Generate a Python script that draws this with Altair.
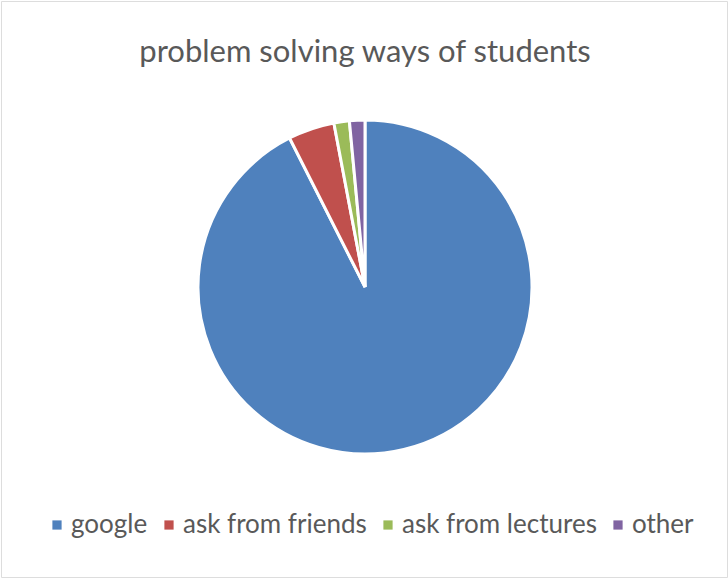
import altair as alt
import pandas as pd

categories = ["google", "ask from friends", "ask from lectures", "other"]
counts = [62, 3, 1, 1]
colors = ["#4F81BD", "#C0504D", "#9BBB59", "#8064A2"]
title_text = "problem solving ways of students"

df = pd.DataFrame({"way": categories, "count": counts, "order": list(range(len(categories)))})

FONT = "Lato"
TXT = "#595959"

pie = alt.Chart(df).mark_arc(radius=167, stroke="white", strokeWidth=3, strokeJoin="miter").encode(
    theta=alt.Theta("count:Q", stack=True),
    order=alt.Order("order:Q"),
    color=alt.Color(
        "way:N",
        scale=alt.Scale(domain=categories, range=colors),
        sort=categories,
        legend=alt.Legend(
            title=None,
            orient="none",
            legendX=43,
            legendY=511,
            direction="horizontal",
            symbolType="square",
            symbolSize=85,
            symbolStrokeWidth=0,
            labelFont=FONT,
            labelFontSize=26,
            labelColor=TXT,
            labelLimit=400,
            columnPadding=8,
            labelOffset=1,
        ),
    ),
    x=alt.value(364),
    y=alt.value(286),
)

title = alt.Chart(pd.DataFrame({"t": [title_text]})).mark_text(
    font=FONT, fontSize=31, color=TXT, align="center", baseline="middle"
).encode(text="t:N", x=alt.value(364), y=alt.value(52))

chart = alt.layer(pie, title).properties(
    width=726, height=576, autosize=alt.AutoSizeParams(type="none"), padding=1
).configure_view(stroke="#d9d9d9", strokeWidth=1).configure(background="white")

chart.save("out.html", embed_options={"renderer": "svg", "actions": False})
